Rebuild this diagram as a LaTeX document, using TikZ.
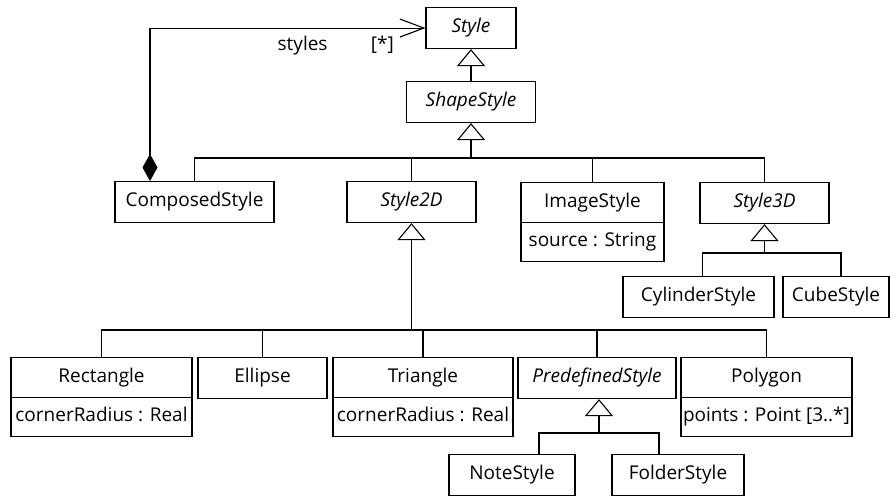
\documentclass[tikz,border=0pt]{standalone}
\usepackage{fontspec}
\setmainfont{Open Sans}
\usetikzlibrary{arrows.meta,shapes.multipart}

\newcommand\umlfont{\fontsize{19}{22}\selectfont}
\newcommand\partstrut{\rule[-5pt]{0pt}{19pt}}

\tikzset{
  box/.style={draw, inner xsep=2pt, anchor=north, font=\umlfont},
  cls/.style={box, minimum height=41pt, inner ysep=0pt, text height=14pt, text depth=5pt},
  abstract/.style={cls, font=\umlfont\itshape},
  attrcls/.style={box, rectangle split, rectangle split parts=2, inner ysep=9.5pt},
  gen/.style={-{Triangle[open,length=17pt,width=28pt]}},
  comp/.style={{Diamond[length=27pt,width=15pt]}-{Straight Barb[length=24pt,width=18pt]}},
  lbl/.style={font=\umlfont, below=4pt}
}

\begin{document}
\begin{tikzpicture}[x=1pt,y=-1pt,line width=1.1pt]
\useasboundingbox (0,0) rectangle (893,496);
% top of the hierarchy
\node[abstract, minimum width=90pt] (style) at (471,7) {Style};
\node[abstract, minimum width=129pt] (shape) at (471,81) {ShapeStyle};
% second row
\node[cls, minimum width=159pt] (composed) at (194.5,181) {ComposedStyle};
\node[abstract, minimum width=129pt] (style2d) at (411.5,181) {Style2D};
\node[attrcls, minimum width=143pt] (image) at (592.5,182)
  {\partstrut ImageStyle\nodepart{two}\partstrut source : String};
\node[abstract, minimum width=129pt] (style3d) at (764.5,182) {Style3D};
% 3D styles
\node[cls, minimum width=151pt] (cylinder) at (698.5,276) {CylinderStyle};
\node[cls, minimum width=106pt] (cube) at (836,276) {CubeStyle};
% 2D styles
\node[attrcls, minimum width=181pt] (rect) at (101.5,357)
  {\partstrut Rectangle\nodepart{two}\partstrut cornerRadius : Real};
\node[cls, minimum width=129pt] (ellipse) at (262.5,357) {Ellipse};
\node[attrcls, minimum width=180pt] (triangle) at (423,357)
  {\partstrut Triangle\nodepart{two}\partstrut cornerRadius : Real};
\node[abstract, minimum width=158pt] (predef) at (597,357) {PredefinedStyle};
\node[attrcls, minimum width=171pt] (polygon) at (766.5,357)
  {\partstrut Polygon\nodepart{two}\partstrut points : Point [3..*]};
% predefined styles
\node[cls, minimum width=126pt] (note) at (512,454) {NoteStyle};
\node[cls, minimum width=132pt] (folder) at (678,454) {FolderStyle};

% junctions of the generalization trees
\coordinate (j1) at (471,158);
\coordinate (j2) at (411.5,330);
\coordinate (j3) at (764.5,253);
\coordinate (j4) at (599,433);

% generalizations
\draw[gen] (shape.north) -- (style.south);
\draw[gen] (j1) -- (shape.south);
\draw (composed.north) |- (j1) -| (style3d.north);
\draw (style2d.north) -- (style2d.north |- j1);
\draw (image.north) -- (image.north |- j1);

\draw[gen] (j2) -- (style2d.south);
\draw (rect.north) |- (j2) -| (polygon.north);
\draw (ellipse.north) -- (ellipse.north |- j2);
\draw (triangle.north) -- (triangle.north |- j2);
\draw (predef.north) -- (predef.north |- j2);

\draw[gen] (j3) -- (style3d.south);
\draw ([xshift=4pt]cylinder.north) |- (j3) -| ([xshift=5pt]cube.north);

\draw[gen] (j4) -- (j4 |- predef.south);
\draw ([xshift=27pt]note.north) |- (j4) -| ([xshift=-19pt]folder.north);

% composition
\draw[comp] ([xshift=-44.5pt]composed.north) |- (style.west)
  node[lbl, pos=0.777] {styles}
  node[lbl, pos=0.922] {[*]};
\end{tikzpicture}
\end{document}
